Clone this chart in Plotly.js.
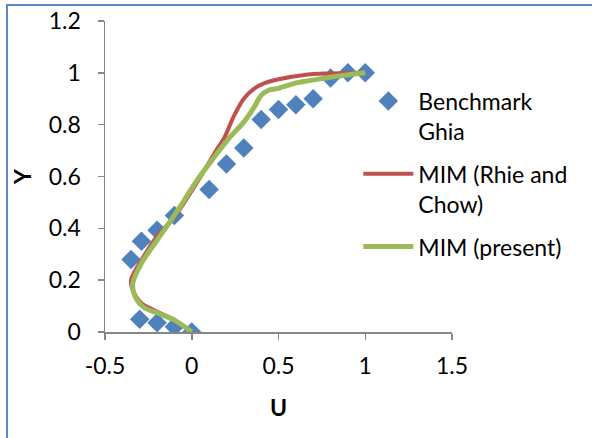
<!DOCTYPE html>
<html>
<head>
<meta charset="utf-8">
<script src="https://cdn.plot.ly/plotly-3.0.1.min.js"></script>
<style>
  html, body { margin: 0; padding: 0; background: #ffffff; }
  #wrap { position: relative; width: 592px; height: 438px; overflow: hidden; }
  #chart { width: 592px; height: 438px; }
  #frame { position: absolute; left: 6px; top: 4px; right: -10px; bottom: -10px;
           border-left: 2px solid #5b8ac6; border-top: 2px solid #5b8ac6; pointer-events: none; }
</style>
</head>
<body>
<div id="wrap">
  <div id="chart"></div>
  <div id="frame"></div>
</div>
<script>
// Benchmark (Ghia) points
const ghiaU = [1.0, 0.9, 0.8, 0.7, 0.6, 0.5, 0.4, 0.3, 0.2, 0.1, -0.1, -0.2, -0.29, -0.35, -0.3, -0.2, -0.1, 0.0];
const ghiaY = [1.0, 1.0, 0.98, 0.90, 0.877, 0.859, 0.82, 0.71, 0.648, 0.55, 0.45, 0.393, 0.35, 0.28, 0.049, 0.036, 0.02, 0.0];

// MIM (Rhie and Chow)
const rcU = [0, -0.12, -0.22, -0.29, -0.34, -0.35, -0.29, -0.2, -0.1, 0.05, 0.13, 0.19, 0.24, 0.3, 0.36, 0.42, 0.5, 0.67, 0.76, 1.0];
const rcY = [0, 0.053, 0.085, 0.111, 0.162, 0.2, 0.277, 0.37, 0.444, 0.598, 0.689, 0.753, 0.829, 0.9, 0.939, 0.96, 0.975, 0.994, 0.997, 1.0];

// MIM (present)
const prU = [0, -0.1, -0.2, -0.28, -0.33, -0.34, -0.29, -0.2, -0.08, 0.03, 0.13, 0.22, 0.3, 0.36, 0.4, 0.44, 0.49, 0.61, 0.8, 1.0];
const prY = [0, 0.046, 0.074, 0.097, 0.143, 0.188, 0.265, 0.354, 0.47, 0.585, 0.675, 0.752, 0.81, 0.868, 0.913, 0.932, 0.939, 0.962, 0.983, 1.0];

const xTicks = [-0.5, 0, 0.5, 1, 1.5];
const xTickText = ['-0.5', '0', '0.5', '1', '1.5'];
const yTicks = [0, 0.2, 0.4, 0.6, 0.8, 1, 1.2];
const yTickText = ['0', '0.2', '0.4', '0.6', '0.8', '1', '1.2'];

const FONT = 'Lato, "Open Sans", sans-serif';
const FS = 23;

const traces = [
  { x: ghiaU, y: ghiaY, mode: 'markers', type: 'scatter',
    name: 'Benchmark<br>Ghia', legendgroup: 'a',
    marker: { symbol: 'diamond', size: 15, color: '#4f81bd', line: { width: 0 } } },
  { x: rcU, y: rcY, mode: 'lines', type: 'scatter',
    name: 'MIM (Rhie and<br>Chow)', legendgroup: 'b',
    line: { color: '#c0504d', width: 4, shape: 'spline', smoothing: 1 } },
  { x: prU, y: prY, mode: 'lines', type: 'scatter',
    name: 'MIM (present)', legendgroup: 'c',
    line: { color: '#9bbb59', width: 5, shape: 'spline', smoothing: 1 } }
];

const axisCommon = {
  showgrid: false, zeroline: false, showline: true,
  linecolor: '#868686', linewidth: 1.5,
  ticks: 'outside', ticklen: 6, tickcolor: '#868686', tickwidth: 1.5,
  tickfont: { family: FONT, size: FS, color: '#000000' },
  tickmode: 'array'
};

const layout = {
  width: 592, height: 438,
  margin: { l: 105, r: 140, t: 20.5, b: 106, pad: 0 },
  paper_bgcolor: '#ffffff', plot_bgcolor: '#ffffff',
  showlegend: true,
  legend: {
    x: 0.73, y: 0.812, xanchor: 'left', yanchor: 'top',
    font: { family: FONT, size: FS, color: '#000000' },
    bgcolor: 'rgba(0,0,0,0)', itemwidth: 50, tracegroupgap: 10,
    valign: 'top', traceorder: 'grouped'
  },
  xaxis: Object.assign({}, axisCommon, {
    range: [-0.5, 1.5], tickvals: xTicks, ticktext: xTickText,
    ticklabelstandoff: 7,
    title: { text: '<b>U</b>', font: { family: FONT, size: FS, color: '#000000' }, standoff: 22 }
  }),
  yaxis: Object.assign({}, axisCommon, {
    range: [0, 1.2], tickvals: yTicks, ticktext: yTickText,
    ticklabelstandoff: 12,
    title: { text: '<b>Y</b>', font: { family: FONT, size: FS, color: '#000000' }, standoff: 10 }
  })
};

Plotly.newPlot('chart', traces, layout, { displayModeBar: false, staticPlot: true });
</script>
</body>
</html>
